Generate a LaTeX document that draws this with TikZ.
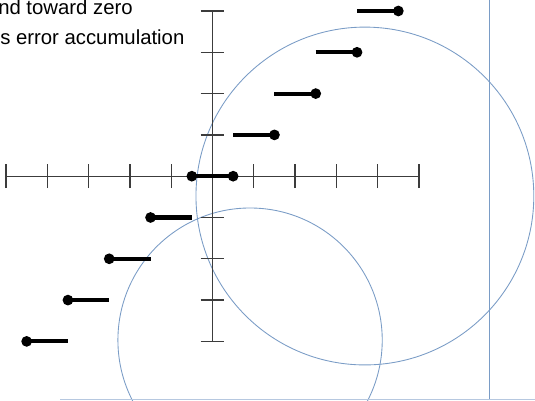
\documentclass[tikz,border=0pt]{standalone}
\usepackage{fontspec}
\setmainfont{Liberation Sans}
\definecolor{ringblue}{RGB}{122,156,198}
\definecolor{axisgray}{RGB}{60,60,60}
\begin{document}
\begin{tikzpicture}
\useasboundingbox (-5.145,-5.443) rectangle (7.809,4.266);
\coordinate (o) at (0,0);
\coordinate (xl) at (-5,0);
\coordinate (xr) at (5,0);
\coordinate (yt) at (0,4);
\coordinate (yb) at (0,-4);
\draw[ringblue,line width=0.6pt] (3.69,-0.48) circle (4.09);
\draw[ringblue,line width=0.6pt] (0.91,-3.97) circle (3.2);
\draw[ringblue,line width=0.6pt] (6.695,4.3) -- (6.695,-5.41);
\draw[ringblue!55,line width=0.8pt] (-3.69,-5.41) -- (7.9,-5.41);
\draw[axisgray,line width=0.9pt] (xl) -- (xr);
\draw[axisgray,line width=0.9pt] (yt) -- (yb);
\foreach \x in {-5,...,5} \draw[axisgray,line width=0.9pt] (\x,-0.29) -- (\x,0.29);
\foreach \y in {-4,...,4} \draw[axisgray,line width=0.9pt] (-0.29,\y) -- (0.29,\y);
\draw[line width=2.8pt] (-0.5,0) -- (0.5,0);
\fill (-0.5,0) circle (0.13);
\fill (0.5,0) circle (0.13);
\draw[line width=2.8pt] (0.5,1) -- (1.5,1);
\fill (1.5,1) circle (0.13);
\draw[line width=2.8pt] (1.5,2) -- (2.5,2);
\fill (2.5,2) circle (0.13);
\draw[line width=2.8pt] (2.5,3) -- (3.5,3);
\fill (3.5,3) circle (0.13);
\draw[line width=2.8pt] (3.5,4) -- (4.5,4);
\fill (4.5,4) circle (0.13);
\draw[line width=2.8pt] (-1.5,-1) -- (-0.5,-1);
\fill (-1.5,-1) circle (0.13);
\draw[line width=2.8pt] (-2.5,-2) -- (-1.5,-2);
\fill (-2.5,-2) circle (0.13);
\draw[line width=2.8pt] (-3.5,-3) -- (-2.5,-3);
\fill (-3.5,-3) circle (0.13);
\draw[line width=2.8pt] (-4.5,-4) -- (-3.5,-4);
\fill (-4.5,-4) circle (0.13);
\node[anchor=base east,inner sep=0pt,font=\fontsize{14}{16}\selectfont] (tline) at (-1.925,3.903) {und toward zero};
\node[anchor=base west,inner sep=0pt,font=\fontsize{14}{16}\selectfont] (bline) at (-5.145,3.177) {s error accumulation};
\end{tikzpicture}
\end{document}
